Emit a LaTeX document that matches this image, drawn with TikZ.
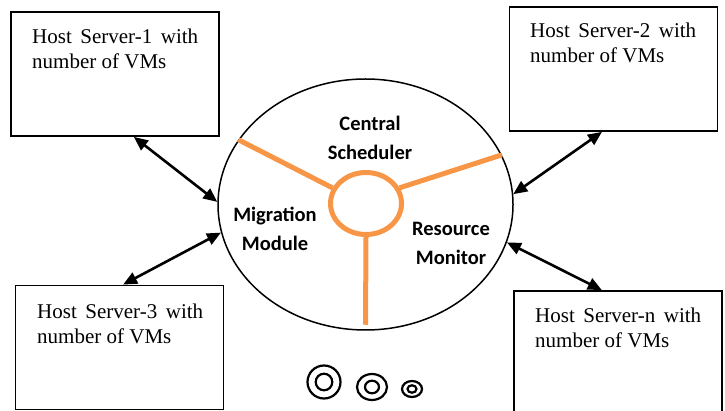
\documentclass[tikz,border=0pt]{standalone}
\usepackage{fontspec}
\setmainfont{Liberation Serif}
\newfontfamily\calibri{Carlito}
\usetikzlibrary{shapes.geometric, arrows.meta, calc, positioning}
\definecolor{schedorange}{HTML}{F79646}

\begin{document}
\begin{tikzpicture}[x=1pt, y=-1pt,
    hostbox/.style={draw, line width=1.8pt, minimum width=208pt, minimum height=124pt, inner sep=0pt},
    hosttext/.style={anchor=north west, inner sep=0pt, text width=166pt, align=justify, font=\fontsize{21}{24.5}\selectfont},
    modlabel/.style={anchor=north, inner sep=0pt, align=center, font=\calibri\bfseries\fontsize{20.5}{29}\selectfont},
    link/.style={{Triangle[length=14pt,width=12pt]}-{Triangle[length=14pt,width=12pt]}, line width=2.6pt},
    spokeline/.style={draw=schedorange, line width=5pt}]
    \useasboundingbox (0,0) rectangle (725,411);

    \node[hostbox] (h1) at (115,74) {};
    \node[hostbox] (h2) at (613.5,69) {};
    \node[hostbox] (h3) at (119.5,347.5) {};
    \node[hostbox] (hn) at (618,353) {};
    \node[hosttext] (t1) at (32,29) {Host Server-1 with number of VMs};
    \node[hosttext] (t2) at (530,23) {Host Server-2 with number of VMs};
    \node[hosttext] (t3) at (37,304) {Host Server-3 with number of VMs};
    \node[hosttext] (tn) at (535,308) {Host Server-n with number of VMs};

    \node[draw, ellipse, line width=1.5pt, minimum width=295pt, minimum height=251pt, inner sep=0pt] (sys) at (365.5,204.5) {};
    \node[draw=schedorange, ellipse, line width=5pt, minimum width=71pt, minimum height=62pt, inner sep=0pt] (hub) at (366,203.5) {};

    \draw[spokeline] (sys.153.8) -- (hub.155);
    \draw[spokeline] (sys.20.2) -- (hub.25);
    \draw[spokeline] (hub.south) -- ($(sys.south)+(0,-6)$);

    \node[modlabel] (cs) at (370,116) {Central\\Scheduler};
    \node[modlabel] (mm) at (275,207) {Migration\\Module};
    \node[modlabel] (rm) at (451,222) {Resource\\Monitor};

    \draw[link] ($(h1.south west)!.59!(h1.south east)$) -- (sys.179);
    \draw[link] ($(h2.south west)!.445!(h2.south east)$) -- (sys.4);
    \draw[link] (sys.191.5) -- ($(h3.north west)!.517!(h3.north east)$);
    \draw[link] (sys.345) -- ($(hn.north west)!.423!(hn.north east)$);

    \draw[line width=2.2pt] (324,382) circle (16.5) (324,382) circle (8.3);
    \draw[line width=2.2pt] (372,387) ellipse [x radius=15, y radius=13] (372,387) ellipse [x radius=7, y radius=6.3];
    \draw[line width=2.2pt] (412,389) ellipse [x radius=10, y radius=8] (412,389) ellipse [x radius=4.5, y radius=3.7];
\end{tikzpicture}
\end{document}
